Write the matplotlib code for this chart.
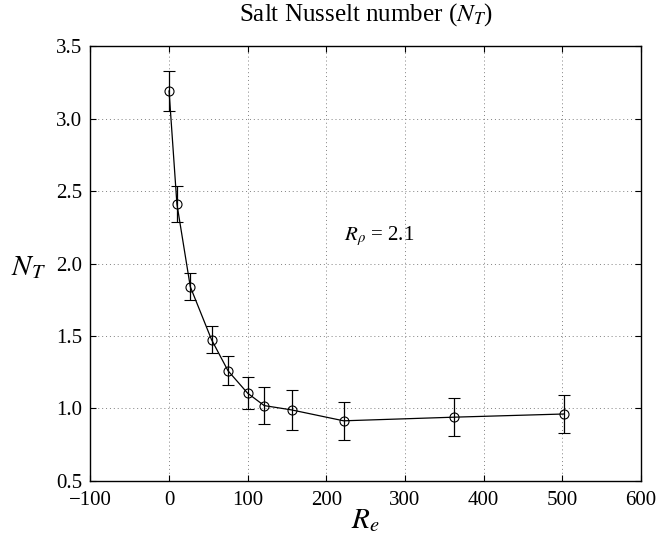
import matplotlib.pyplot as plt
import numpy as np

# du lieu doc tu hinh
re_vals = [0, 10, 27, 54, 75, 100, 121, 156, 222, 362, 502]
nt_vals = [3.19, 2.41, 1.84, 1.475, 1.26, 1.105, 1.02, 0.99, 0.915, 0.94, 0.962]
nt_err = [0.14, 0.125, 0.095, 0.095, 0.1, 0.11, 0.13, 0.135, 0.133, 0.13, 0.13]

xticks = [-100, 0, 100, 200, 300, 400, 500, 600]
yticks = [0.5, 1.0, 1.5, 2.0, 2.5, 3.0, 3.5]

plt.rcParams['font.family'] = ['Liberation Serif', 'DejaVu Serif']
plt.rcParams['mathtext.fontset'] = 'stix'

fig = plt.figure(figsize=(6.6, 5.48), dpi=100)
ax = fig.add_axes([0.137, 0.1223, 0.834, 0.7937])

ax.errorbar(re_vals, nt_vals, yerr=nt_err, color='black', lw=0.9,
            marker='o', markersize=6.5, markerfacecolor='none',
            markeredgewidth=0.8, capsize=4, elinewidth=0.9, capthick=0.9)

ax.set_xlim(-100, 600)
ax.set_ylim(0.5, 3.5)
ax.set_xticks(xticks)
ax.set_yticks(yticks)
ax.set_yticklabels([f"{v:.1f}" for v in yticks])
ax.tick_params(direction='in', top=True, right=True, labelsize=15, length=4)
ax.tick_params(axis='x', pad=7)
ax.tick_params(axis='y', pad=6)
ax.grid(True, linestyle=(0, (1, 3)), color='gray', lw=0.7)
for s in ax.spines.values():
    s.set_linewidth(1.0)

ax.set_title("Salt Nusselt number ($N_T$)", fontsize=18, pad=18)
ax.set_xlabel("$R_e$", fontsize=21, labelpad=-2)
ax.set_ylabel("$N_T$", fontsize=21, rotation=0, va='center', ha='center')
ax.yaxis.set_label_coords(-0.113, 0.49)
ax.text(222, 2.19, r"$R_\rho$ = 2.1", fontsize=15, va='center', ha='left')

plt.savefig("out.png", dpi=100)
